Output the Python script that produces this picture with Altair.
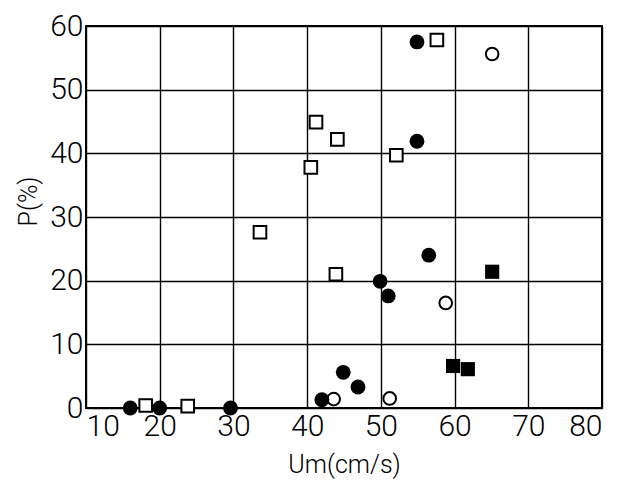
import altair as alt
import pandas as pd

# Filled circles
fc_x = [16.0, 20.0, 29.6, 42.0, 44.9, 46.9, 49.9, 51.0, 56.5, 54.9, 54.9]
fc_y = [0.0, 0.0, 0.0, 1.3, 5.6, 3.3, 19.9, 17.6, 24.0, 41.9, 57.5]
# Open squares
os_x = [18.1, 23.8, 33.6, 40.5, 41.2, 44.1, 52.1, 43.9, 57.6]
os_y = [0.4, 0.3, 27.6, 37.8, 44.9, 42.2, 39.7, 21.0, 57.8]
# Open circles
oc_x = [43.6, 51.2, 58.8, 65.1]
oc_y = [1.4, 1.5, 16.5, 55.6]
# Filled squares
fs_x = [59.8, 61.8, 65.1]
fs_y = [6.6, 6.1, 21.4]

x_ticks = [10, 20, 30, 40, 50, 60, 70, 80]
y_ticks = [0, 10, 20, 30, 40, 50, 60]

FONT = "Roboto"

def df(xs, ys):
    return pd.DataFrame({"Um": xs, "P": ys})

xenc = alt.X("Um:Q", scale=alt.Scale(domain=[10, 80], nice=False, zero=False),
             axis=alt.Axis(values=x_ticks, title="Um(cm/s)", grid=True,
                           gridColor="black", gridWidth=1.4, gridOpacity=1,
                           domain=False, ticks=False, labelPadding=3,
                           labelFontSize=30, labelFont=FONT, labelFontWeight=300,
                           labelColor="black",
                           titleFontSize=25, titleFont=FONT, titleFontWeight=300,
                           titleColor="black", titlePadding=11))
yenc = alt.Y("P:Q", scale=alt.Scale(domain=[0, 60], nice=False),
             axis=alt.Axis(values=y_ticks, title="P(%)", grid=True,
                           gridColor="black", gridWidth=1.4, gridOpacity=1,
                           domain=False, ticks=False, labelPadding=3,
                           labelFontSize=30, labelFont=FONT, labelFontWeight=300,
                           labelColor="black",
                           titleFontSize=25, titleFont=FONT, titleFontWeight=300,
                           titleColor="black", titlePadding=8, titleY=175))

l_os = alt.Chart(df(os_x, os_y)).mark_point(shape="square", filled=False, fill="white",
                                             stroke="black", strokeWidth=2, size=160, opacity=1
                                             ).encode(x=xenc, y=yenc)
l_oc = alt.Chart(df(oc_x, oc_y)).mark_point(shape="circle", filled=False, fill="white",
                                             stroke="black", strokeWidth=2, size=160, opacity=1
                                             ).encode(x=xenc, y=yenc)
l_fc = alt.Chart(df(fc_x, fc_y)).mark_point(shape="circle", filled=True, color="black",
                                             size=220, opacity=1).encode(x=xenc, y=yenc)
l_fs = alt.Chart(df(fs_x, fs_y)).mark_point(shape="square", filled=True, color="black",
                                             size=200, opacity=1).encode(x=xenc, y=yenc)

chart = alt.layer(l_os, l_oc, l_fc, l_fs).properties(
    width=516, height=382,
    autosize=alt.AutoSizeParams(type="none"),
    padding={"left": 86, "top": 26, "right": 24, "bottom": 74},
    background="white",
).configure_view(stroke="black", strokeWidth=2)

chart.save("out.html", embed_options={"renderer": "svg", "actions": False})
